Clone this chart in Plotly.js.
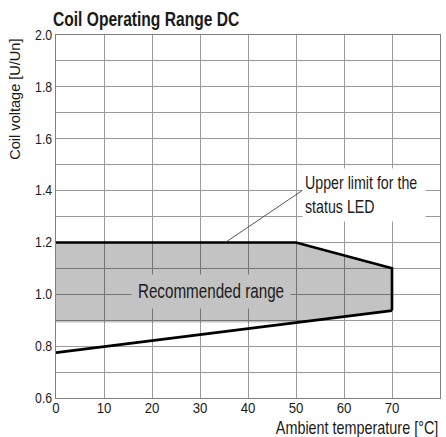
<!DOCTYPE html>
<html>
<head>
<meta charset="utf-8">
<script src="https://cdn.plot.ly/plotly-3.0.1.min.js"></script>
<style>
html,body{margin:0;padding:0;background:#fff;}
#chart{width:446px;height:437px;}
</style>
</head>
<body>
<div id="chart"></div>
<script>
// ---- data ----
const tempTicks = [0, 10, 20, 30, 40, 50, 60, 70, 80];
const voltTicks = [0.6, 0.8, 1.0, 1.2, 1.4, 1.6, 1.8, 2.0];
const upperLimitX = [0, 50, 70, 70];
const upperLimitY = [1.2, 1.2, 1.1, 0.937];
const lowerLimitX = [0, 70];
const lowerLimitY = [0.775, 0.937];
const rangeX = [0, 50, 70, 70, 50, 0];
const rangeY = [1.2, 1.2, 1.1, 0.937, 0.891, 0.891];
const leaderX = [35.3, 51.2];
const leaderY = [1.2, 1.399];

const FONT = '"Liberation Sans", Arial, sans-serif';
const TXT = '#1a1a1a';
const GRID = '#9a9a9a';

const traces = [
  {x: rangeX, y: rangeY, mode: 'lines', fill: 'toself',
   fillcolor: 'rgba(0,0,0,0.235)', line: {width: 0, color: 'rgba(0,0,0,0)'},
   hoverinfo: 'skip', showlegend: false},
  {x: lowerLimitX, y: lowerLimitY, mode: 'lines',
   line: {color: '#000', width: 2.6}, showlegend: false},
  {x: upperLimitX, y: upperLimitY, mode: 'lines',
   line: {color: '#000', width: 2.6}, showlegend: false}
];

const layout = {
  width: 446, height: 437,
  margin: {l: 56, r: 6, t: 35, b: 39},
  paper_bgcolor: '#fff', plot_bgcolor: '#fff',
  font: {family: FONT, color: TXT, size: 14},
  showlegend: false,
  title: {text: '<b>Coil Operating Range DC</b>', x: 53/446, xanchor: 'left',
          xref: 'container', y: 1 - 19/437, yanchor: 'middle',
          font: {family: FONT, size: 20, color: TXT}},
  xaxis: {range: [0, 80], tickvals: tempTicks, ticks: '', showgrid: true,
          gridcolor: GRID, gridwidth: 1, zeroline: false, ticklabelstandoff: -4,
          showline: true, linecolor: '#808080', linewidth: 1, mirror: true,
          tickfont: {family: FONT, size: 15, color: TXT}, fixedrange: true},
  yaxis: {range: [0.6, 2.0], tickvals: voltTicks, tickformat: '.1f', ticks: '',
          showgrid: true, gridcolor: GRID, gridwidth: 1, zeroline: false,
          minor: {dtick: 0.1, showgrid: true, gridcolor: GRID, gridwidth: 1},
          showline: true, linecolor: '#808080', linewidth: 1, mirror: true,
          tickfont: {family: FONT, size: 14, color: TXT}, fixedrange: true},
  shapes: [
    {type: 'line', xref: 'x', yref: 'y', x0: leaderX[0], y0: leaderY[0],
     x1: leaderX[1], y1: leaderY[1], line: {color: '#444', width: 0.9}}
  ],
  annotations: [
    {text: 'Ambient temperature [°C]', xref: 'paper', yref: 'paper',
     x: 1, xanchor: 'right', y: -0.082, yanchor: 'middle', showarrow: false,
     align: 'right', font: {family: FONT, size: 18, color: TXT}},
    {text: 'Coil voltage [U/Un]', xref: 'paper', yref: 'paper', textangle: -90,
     x: -0.109, xanchor: 'center', y: 1.0, yanchor: 'top', showarrow: false,
     font: {family: FONT, size: 15, color: TXT}},
    {text: 'Recommended range', xref: 'x', yref: 'y', x: 32.3, y: 1.011,
     xanchor: 'center', yanchor: 'middle', showarrow: false,
     bgcolor: '#c3c3c3', width: 154, height: 29, borderpad: 2,
     font: {family: FONT, size: 19.5, color: TXT}},
    {text: 'Upper limit for the<br>status LED', xref: 'x', yref: 'y',
     x: 51.3, y: 1.487, xanchor: 'left', yanchor: 'top', align: 'left',
     showarrow: false, bgcolor: '#ffffff', width: 118, height: 48, borderpad: 2,
     font: {family: FONT, size: 18, color: TXT}}
  ]
};

// horizontal condensing of the text (reference uses a condensed typeface)
function squeeze(el, s) {
  el.removeAttribute('clip-path');
  const bb = el.getBBox();
  const anchor = el.getAttribute('text-anchor') || 'start';
  const ax = anchor === 'middle' ? bb.x + bb.width / 2
           : anchor === 'end' ? bb.x + bb.width : bb.x;
  const prev = el.getAttribute('transform') || '';
  el.setAttribute('transform', prev + ' translate(' + ax + ',0) scale(' + s + ',1) translate(' + (-ax) + ',0)');
}

Plotly.newPlot('chart', traces, layout, {displayModeBar: false, staticPlot: true}).then(gd => {
  gd.querySelectorAll('.xtick text').forEach(t => squeeze(t, 0.88));
  gd.querySelectorAll('.ytick text').forEach(t => squeeze(t, 0.88));
  gd.querySelectorAll('text.gtitle').forEach(t => squeeze(t, 0.78));
  const annScale = [0.8, 0.97, 0.78, 0.79];
  gd.querySelectorAll('g.annotation').forEach(g => {
    const i = +g.getAttribute('data-index');
    g.querySelectorAll('[clip-path]').forEach(c => c.removeAttribute('clip-path'));
    const t = g.querySelector('text.annotation-text');
    if (t && annScale[i] !== undefined) squeeze(t, annScale[i]);
  });
});
</script>
</body>
</html>
